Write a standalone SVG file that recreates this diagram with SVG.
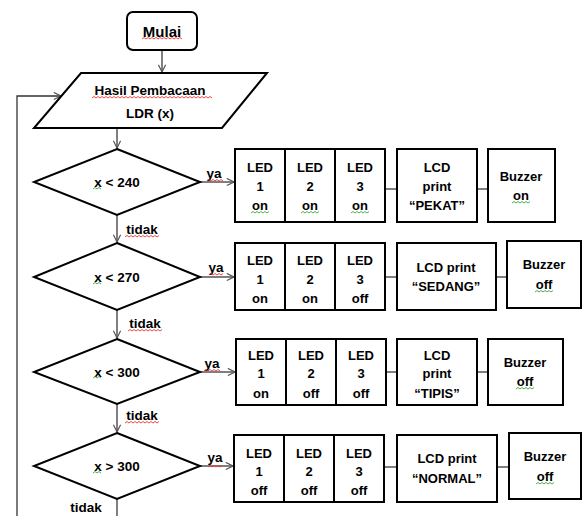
<svg xmlns="http://www.w3.org/2000/svg" width="582" height="516" viewBox="0 0 582 516">
<style>
.s{fill:#fff;stroke:#000;stroke-width:2}
.t{font-family:"Liberation Sans",Arial,sans-serif;font-weight:bold;font-size:13px;fill:#000;text-anchor:middle}
.f{font-size:13.5px}
.c{fill:none;stroke:#555;stroke-width:1.5}
.r{fill:none;stroke:#e33;stroke-width:0.9}
.g{fill:none;stroke:#3a3;stroke-width:0.9}
</style>
<defs>
<marker id="a" viewBox="0 0 10 10" refX="9" refY="5" markerWidth="9" markerHeight="9" markerUnits="userSpaceOnUse" orient="auto">
<path d="M1,1 L9,5 L1,9" fill="none" stroke="#555" stroke-width="1.3"/>
</marker>
</defs>
<g id="connectors">
<line class="c" x1="162" y1="50" x2="162" y2="72" marker-end="url(#a)"/>
<polyline fill="none" stroke="#333" stroke-width="1.3" points="17,516 17,96 61,96" marker-end="url(#a)"/>
<line class="c" x1="117" y1="128" x2="117" y2="148" marker-end="url(#a)"/>
<line class="c" x1="117" y1="215" x2="117" y2="242" marker-end="url(#a)"/>
<line class="c" x1="117" y1="310" x2="117" y2="338" marker-end="url(#a)"/>
<line class="c" x1="117" y1="404" x2="117" y2="432" marker-end="url(#a)"/>
<line class="c" x1="117" y1="499" x2="117" y2="516"/>
<line class="c" x1="200" y1="182" x2="234" y2="182" marker-end="url(#a)"/>
<line class="c" x1="200" y1="277" x2="234" y2="277" marker-end="url(#a)"/>
<line class="c" x1="200" y1="372" x2="235" y2="372" marker-end="url(#a)"/>
<line class="c" x1="200" y1="466" x2="233" y2="466" marker-end="url(#a)"/>
<line class="c" x1="385" y1="189" x2="397" y2="189"/>
<line class="c" x1="477" y1="189" x2="488" y2="189"/>
<line class="c" x1="385" y1="277" x2="397" y2="277"/>
<line class="c" x1="496" y1="277" x2="507" y2="277"/>
<line class="c" x1="386" y1="372" x2="397" y2="372"/>
<line class="c" x1="477" y1="372" x2="488" y2="372"/>
<line class="c" x1="384" y1="467" x2="397" y2="467"/>
<line class="c" x1="497" y1="467" x2="509" y2="467"/>
<text class="t f" x="214" y="178">ya</text>
<text class="t f" x="216" y="272">ya</text>
<text class="t f" x="212" y="368">ya</text>
<text class="t f" x="215" y="462">ya</text>
<text class="t f" x="142" y="234">tidak</text>
<text class="t f" x="145" y="328">tidak</text>
<text class="t f" x="142" y="420">tidak</text>
<text class="t f" x="86" y="512">tidak</text>
</g>
<g id="start">
<rect class="s" x="127" y="12" width="70" height="38" rx="6"/>
<text class="t" style="font-size:15px" x="162" y="37">Mulai</text>
</g>
<g id="input">
<polygon class="s" points="81,73 267,73 222,128 34,128"/>
<text class="t f" x="150" y="95">Hasil Pembacaan</text>
<text class="t f" x="150" y="118">LDR (x)</text>
</g>
<g id="d1">
<polygon class="s" points="117,149 200,182 117,215 34,182"/>
<text class="t f" x="117" y="187">x &lt; 240</text>
</g>
<g id="d2">
<polygon class="s" points="117,243 200,277 117,310 34,277"/>
<text class="t f" x="117" y="282">x &lt; 270</text>
</g>
<g id="d3">
<polygon class="s" points="117,339 200,372 117,404 34,372"/>
<text class="t f" x="117" y="377">x &lt; 300</text>
</g>
<g id="d4">
<polygon class="s" points="117,433 200,466 117,499 34,466"/>
<text class="t f" x="117" y="471">x &gt; 300</text>
</g>
<g id="led1">
<rect class="s" x="235" y="149" width="150" height="73"/>
<line class="s" x1="285" y1="149" x2="285" y2="222"/>
<line class="s" x1="335" y1="149" x2="335" y2="222"/>
<text class="t" x="260" y="172">LED</text><text class="t" x="260" y="191">1</text><text class="t" x="260" y="210">on</text>
<text class="t" x="310" y="172">LED</text><text class="t" x="310" y="191">2</text><text class="t" x="310" y="210">on</text>
<text class="t" x="360" y="172">LED</text><text class="t" x="360" y="191">3</text><text class="t" x="360" y="210">on</text>
</g>
<g id="lcd1">
<rect class="s" x="397" y="149" width="80" height="73"/>
<text class="t" x="437" y="172">LCD</text><text class="t" x="437" y="191">print</text><text class="t" x="437" y="210">“PEKAT”</text>
</g>
<g id="buz1">
<rect class="s" x="488" y="149" width="67" height="73"/>
<text class="t" x="521" y="181">Buzzer</text><text class="t" x="521" y="200">on</text>
</g>
<g id="led2">
<rect class="s" x="235" y="243" width="150" height="67"/>
<line class="s" x1="285" y1="243" x2="285" y2="310"/>
<line class="s" x1="335" y1="243" x2="335" y2="310"/>
<text class="t" x="260" y="265">LED</text><text class="t" x="260" y="284">1</text><text class="t" x="260" y="303">on</text>
<text class="t" x="310" y="265">LED</text><text class="t" x="310" y="284">2</text><text class="t" x="310" y="303">on</text>
<text class="t" x="360" y="265">LED</text><text class="t" x="360" y="284">3</text><text class="t" x="360" y="303">off</text>
</g>
<g id="lcd2">
<rect class="s" x="397" y="243" width="99" height="67"/>
<text class="t" x="446" y="272">LCD print</text><text class="t" x="446" y="291">“SEDANG”</text>
</g>
<g id="buz2">
<rect class="s" x="507" y="241" width="74" height="67"/>
<text class="t" x="544" y="269">Buzzer</text><text class="t" x="544" y="289">off</text>
</g>
<g id="led3">
<rect class="s" x="236" y="339" width="150" height="66"/>
<line class="s" x1="286" y1="339" x2="286" y2="405"/>
<line class="s" x1="336" y1="339" x2="336" y2="405"/>
<text class="t" x="261" y="360">LED</text><text class="t" x="261" y="378">1</text><text class="t" x="261" y="398">on</text>
<text class="t" x="311" y="360">LED</text><text class="t" x="311" y="378">2</text><text class="t" x="311" y="398">off</text>
<text class="t" x="361" y="360">LED</text><text class="t" x="361" y="378">3</text><text class="t" x="361" y="398">off</text>
</g>
<g id="lcd3">
<rect class="s" x="397" y="339" width="80" height="66"/>
<text class="t" x="437" y="360">LCD</text><text class="t" x="437" y="378">print</text><text class="t" x="437" y="398">“TIPIS”</text>
</g>
<g id="buz3">
<rect class="s" x="488" y="339" width="75" height="66"/>
<text class="t" x="525" y="367">Buzzer</text><text class="t" x="525" y="386">off</text>
</g>
<g id="led4">
<rect class="s" x="234" y="435" width="150" height="67"/>
<line class="s" x1="284" y1="435" x2="284" y2="502"/>
<line class="s" x1="334" y1="435" x2="334" y2="502"/>
<text class="t" x="259" y="458">LED</text><text class="t" x="259" y="476">1</text><text class="t" x="259" y="495">off</text>
<text class="t" x="309" y="458">LED</text><text class="t" x="309" y="476">2</text><text class="t" x="309" y="495">off</text>
<text class="t" x="359" y="458">LED</text><text class="t" x="359" y="476">3</text><text class="t" x="359" y="495">off</text>
</g>
<g id="lcd4">
<rect class="s" x="397" y="435" width="100" height="67"/>
<text class="t" x="447" y="463">LCD print</text><text class="t" x="447" y="483">“NORMAL”</text>
</g>
<g id="buz4">
<rect class="s" x="509" y="433" width="72" height="66"/>
<text class="t" x="545" y="461">Buzzer</text><text class="t" x="545" y="481">off</text>
</g>
<g id="spellcheck">
<path class="r" d="M142,39 l2,-1.5 l2,1.5 l2,-1.5 l2,1.5 l2,-1.5 l2,1.5 l2,-1.5 l2,1.5 l2,-1.5 l2,1.5 l2,-1.5 l2,1.5 l2,-1.5 l2,1.5 l2,-1.5 l2,1.5 l2,-1.5 l2,1.5 l2,-1.5 l2,1.5"/>
<path class="r" d="M92,98 l2,-1.5 l2,1.5 l2,-1.5 l2,1.5 l2,-1.5 l2,1.5 l2,-1.5 l2,1.5 l2,-1.5 l2,1.5 l2,-1.5 l2,1.5 l2,-1.5 l2,1.5 l2,-1.5 l2,1.5 l2,-1.5 l2,1.5 l2,-1.5 l2,1.5 l2,-1.5 l2,1.5 l2,-1.5 l2,1.5 l2,-1.5 l2,1.5 l2,-1.5 l2,1.5 l2,-1.5 l2,1.5 l2,-1.5 l2,1.5 l2,-1.5 l2,1.5 l2,-1.5 l2,1.5 l2,-1.5 l2,1.5 l2,-1.5 l2,1.5 l2,-1.5 l2,1.5 l2,-1.5 l2,1.5 l2,-1.5 l2,1.5 l2,-1.5 l2,1.5 l2,-1.5 l2,1.5 l2,-1.5 l2,1.5 l2,-1.5 l2,1.5 l2,-1.5 l2,1.5 l2,-1.5 l2,1.5 l2,-1.5 l2,1.5"/>
<path class="r" d="M125,237 l2,-1.5 l2,1.5 l2,-1.5 l2,1.5 l2,-1.5 l2,1.5 l2,-1.5 l2,1.5 l2,-1.5 l2,1.5 l2,-1.5 l2,1.5 l2,-1.5 l2,1.5 l2,-1.5 l2,1.5 l2,-1.5"/>
<path class="r" d="M128,331 l2,-1.5 l2,1.5 l2,-1.5 l2,1.5 l2,-1.5 l2,1.5 l2,-1.5 l2,1.5 l2,-1.5 l2,1.5 l2,-1.5 l2,1.5 l2,-1.5 l2,1.5 l2,-1.5 l2,1.5 l2,-1.5"/>
<path class="r" d="M125,423 l2,-1.5 l2,1.5 l2,-1.5 l2,1.5 l2,-1.5 l2,1.5 l2,-1.5 l2,1.5 l2,-1.5 l2,1.5 l2,-1.5 l2,1.5 l2,-1.5 l2,1.5 l2,-1.5 l2,1.5 l2,-1.5"/>
<path class="r" d="M207,181 l2,-1.5 l2,1.5 l2,-1.5 l2,1.5 l2,-1.5 l2,1.5 l2,-1.5 l2,1.5"/>
<path class="r" d="M209,275 l2,-1.5 l2,1.5 l2,-1.5 l2,1.5 l2,-1.5 l2,1.5 l2,-1.5"/>
<path class="r" d="M204,371 l2,-1.5 l2,1.5 l2,-1.5 l2,1.5 l2,-1.5 l2,1.5 l2,-1.5 l2,1.5"/>
<path class="r" d="M208,467 l2,-1.5 l2,1.5 l2,-1.5 l2,1.5 l2,-1.5 l2,1.5 l2,-1.5"/>
<path class="g" d="M93,189 l2,-1.5 l2,1.5 l2,-1.5 l2,1.5"/>
<path class="g" d="M93,284 l2,-1.5 l2,1.5 l2,-1.5 l2,1.5"/>
<path class="g" d="M93,378 l2,-1.5 l2,1.5 l2,-1.5 l2,1.5"/>
<path class="g" d="M93,473 l2,-1.5 l2,1.5 l2,-1.5 l2,1.5"/>
<path class="g" d="M251,213 l2,-1.5 l2,1.5 l2,-1.5 l2,1.5 l2,-1.5 l2,1.5 l2,-1.5 l2,1.5 l2,-1.5"/>
<path class="g" d="M301,213 l2,-1.5 l2,1.5 l2,-1.5 l2,1.5 l2,-1.5 l2,1.5 l2,-1.5 l2,1.5 l2,-1.5"/>
<path class="g" d="M351,213 l2,-1.5 l2,1.5 l2,-1.5 l2,1.5 l2,-1.5 l2,1.5 l2,-1.5 l2,1.5 l2,-1.5"/>
<path class="g" d="M512,203 l2,-1.5 l2,1.5 l2,-1.5 l2,1.5 l2,-1.5 l2,1.5 l2,-1.5 l2,1.5 l2,-1.5"/>
<path class="g" d="M535,292 l2,-1.5 l2,1.5 l2,-1.5 l2,1.5 l2,-1.5 l2,1.5 l2,-1.5 l2,1.5 l2,-1.5"/>
<path class="g" d="M516,389 l2,-1.5 l2,1.5 l2,-1.5 l2,1.5 l2,-1.5 l2,1.5 l2,-1.5 l2,1.5 l2,-1.5"/>
<path class="g" d="M536,484 l2,-1.5 l2,1.5 l2,-1.5 l2,1.5 l2,-1.5 l2,1.5 l2,-1.5 l2,1.5 l2,-1.5"/>
</g>
</svg>
